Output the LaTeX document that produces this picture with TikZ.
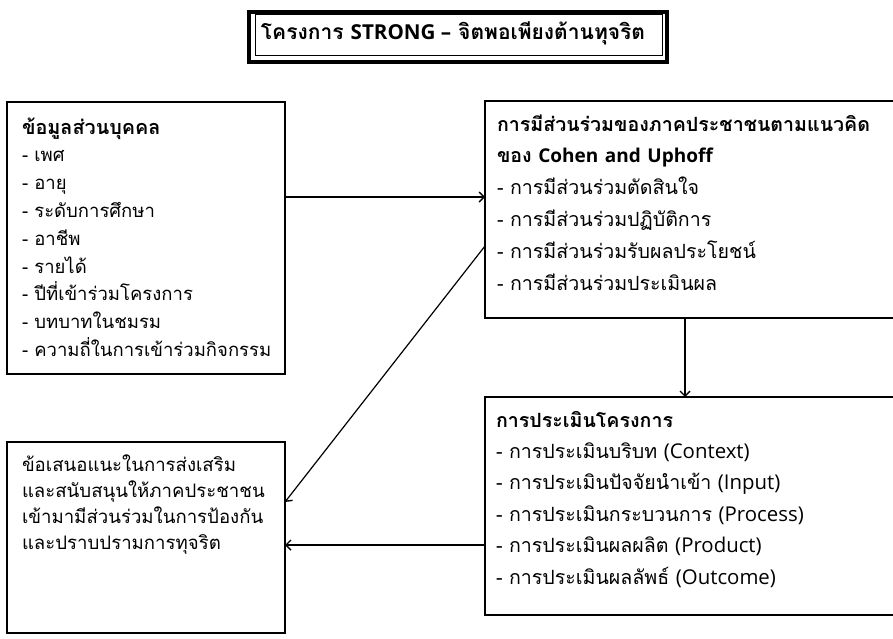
\documentclass[tikz,border=0pt]{standalone}
\usepackage{fontspec}
\setmainfont[Script=Thai]{Loma}
\newfontfamily\latfont{Open Sans}[Scale=1.04]
\newfontfamily\latsmall{Open Sans}[Scale=0.97]
\newfontfamily\lattitle{Open Sans}[Scale=0.98]
\newcommand\lat[1]{{\latfont #1}}
\usetikzlibrary{arrows.meta}
\begin{document}
\begin{tikzpicture}[x=1pt,y=-1pt,
  box/.style={draw, line width=1.2pt, inner sep=0pt, outer sep=0pt, anchor=north west},
  txt/.style={anchor=base west, inner sep=0pt, outer sep=0pt, align=left, text width=#1},
  arr/.style={line width=1.2pt, -{Straight Barb[length=5pt,width=10pt,line width=1.4pt]}}]
\useasboundingbox (0,0) rectangle (893,638);
\clip (0,0) rectangle (893,638);
% title
\node[draw, line width=4pt, inner sep=0pt, minimum width=418.5pt, minimum height=50pt] (tframe) at (457.75,36.5) {};
\node[draw, line width=1pt, inner sep=0pt, minimum width=407pt, minimum height=40.5pt] (tinner) at (458.5,34.75) {};
\node[anchor=base, inner sep=0pt, font={\fontsize{21}{26}\selectfont\bfseries}] (title) at (453,39) {โครงการ {\lattitle STRONG –} จิตพอเพียงต้านทุจริต};
% boxes
\node[box, minimum width=278pt, minimum height=272pt] (b1) at (7,102) {};
\node[box, minimum width=420pt, minimum height=217pt] (b2) at (485,101) {};
\node[box, minimum width=420pt, minimum height=218pt] (b3) at (485,397) {};
\node[box, minimum width=278pt, minimum height=191pt] (b4) at (7,442) {};
% texts
\node[txt=275pt, font={\fontsize{18.5}{27.8}\selectfont}] (t1) at (22,134) {{\fontsize{19.8}{27.8}\selectfont\bfseries ข้อมูลส่วนบุคคล}\\
- เพศ\\
- อายุ\\
- ระดับการศึกษา\\
- อาชีพ\\
- รายได้\\
- ปีที่เข้าร่วมโครงการ\\
- บทบาทในชมรม\\
- ความถี่ในการเข้าร่วมกิจกรรม};
\node[txt=395pt, font={\fontsize{19.6}{31.8}\selectfont}] (t2) at (497,131) {\textbf{การมีส่วนร่วมของภาคประชาชนตามแนวคิด}\\
\textbf{ของ {\latsmall Cohen and Uphoff}}\\
- การมีส่วนร่วมตัดสินใจ\\
- การมีส่วนร่วมปฏิบัติการ\\
- การมีส่วนร่วมรับผลประโยชน์\\
- การมีส่วนร่วมประเมินผล};
\node[txt=395pt, font={\fontsize{19.6}{31.4}\selectfont}] (t3) at (496,427) {\textbf{การประเมินโครงการ}\\
- การประเมินบริบท \lat{(Context)}\\
- การประเมินปัจจัยนำเข้า \lat{(Input)}\\
- การประเมินกระบวนการ \lat{(Process)}\\
- การประเมินผลผลิต \lat{(Product)}\\
- การประเมินผลลัพธ์ \lat{(Outcome)}};
\node[txt=275pt, font={\fontsize{18.6}{26}\selectfont}] (t4) at (22,471) {ข้อเสนอแนะในการส่งเสริม\\
และสนับสนุนให้ภาคประชาชน\\
เข้ามามีส่วนร่วมในการป้องกัน\\
และปราบปรามการทุจริต};
% connectors
\draw[arr] ([yshift=-95pt]b1.north east) -- ([yshift=-96pt]b2.north west);
\draw[arr] ([xshift=200pt]b2.south west) -- ([xshift=200pt]b3.north west);
\draw[arr] ([yshift=-145pt]b2.north west) -- ([yshift=-60pt]b4.north east);
\draw[arr] ([yshift=-148pt]b3.north west) -- ([yshift=-103pt]b4.north east);
\end{tikzpicture}
\end{document}
